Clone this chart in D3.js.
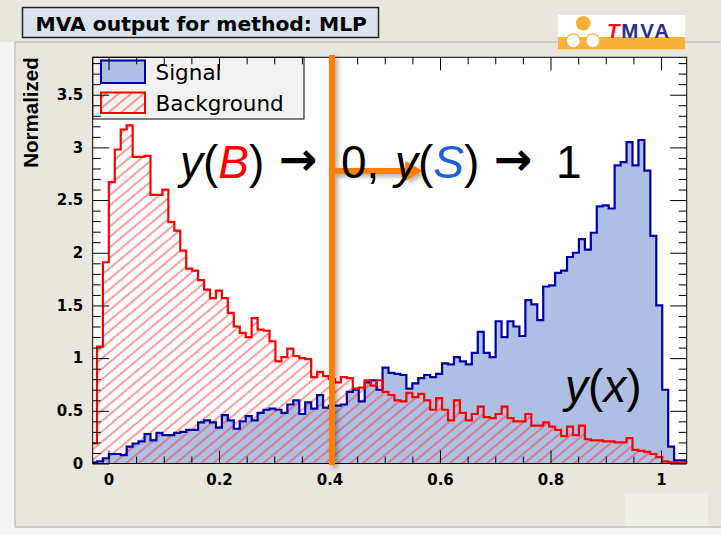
<!DOCTYPE html>
<html>
<head>
<meta charset="utf-8">
<script src="https://cdn.jsdelivr.net/npm/d3@7"></script>
<style>
  body { margin: 0; background: #f4f4f4; }
  svg { display: block; font-family: "Liberation Sans", Arial, Helvetica, sans-serif; }
</style>
</head>
<body>
<svg id="chart" width="721" height="535"></svg>
<script>
// ---- histogram data: MLP response, 100 bins, normalised to unit area ----
const binLow = -0.0317;
const binWidth = 0.01077;

const signal = [
  0.01, 0.02, 0.05, 0.09, 0.09, 0.08, 0.16, 0.19, 0.21, 0.28,
  0.22, 0.29, 0.27, 0.27, 0.29, 0.30, 0.32, 0.32, 0.39, 0.41,
  0.39, 0.34, 0.46, 0.41, 0.33, 0.40, 0.45, 0.41, 0.48, 0.51,
  0.52, 0.51, 0.48, 0.56, 0.60, 0.47, 0.58, 0.52, 0.65, 0.53,
  0.55, 0.55, 0.56, 0.68, 0.70, 0.59, 0.77, 0.79, 0.70, 0.91,
  0.86, 0.85, 0.84, 0.71, 0.76, 0.81, 0.84, 0.82, 0.85, 0.95,
  0.94, 1.01, 0.97, 0.94, 1.05, 1.25, 1.05, 1.01, 1.35, 1.20,
  1.35, 1.30, 1.21, 1.55, 1.51, 1.36, 1.68, 1.69, 1.81, 1.83,
  1.96, 2.00, 2.13, 2.03, 2.19, 2.44, 2.45, 2.42, 2.83, 2.86,
  3.05, 2.83, 3.07, 2.78, 2.16, 1.50, 0.70, 0.16, 0.03, 0.03
];

const background = [
  0.19, 1.11, 1.91, 2.67, 2.98, 3.17, 3.21, 2.91, 2.91, 2.92,
  2.55, 2.55, 2.60, 2.29, 2.21, 2.02, 1.85, 1.83, 1.74, 1.65,
  1.57, 1.64, 1.57, 1.43, 1.30, 1.24, 1.20, 1.38, 1.27, 1.26,
  1.16, 0.97, 1.01, 1.09, 1.02, 1.00, 0.99, 0.82, 0.87, 0.83,
  0.80, 0.77, 0.82, 0.81, 0.71, 0.72, 0.79, 0.74, 0.79, 0.68,
  0.65, 0.60, 0.59, 0.67, 0.63, 0.66, 0.60, 0.51, 0.62, 0.51,
  0.41, 0.60, 0.48, 0.41, 0.47, 0.54, 0.44, 0.43, 0.47, 0.54,
  0.43, 0.40, 0.40, 0.47, 0.36, 0.36, 0.39, 0.35, 0.32, 0.26,
  0.35, 0.27, 0.36, 0.23, 0.22, 0.22, 0.21, 0.21, 0.20, 0.20,
  0.24, 0.13, 0.12, 0.11, 0.09, 0.06, 0.02, 0.01, 0.01, 0.01
];

const xTickLabels = ["0", "0.2", "0.4", "0.6", "0.8", "1"];
const yTickLabels = ["0", "0.5", "1", "1.5", "2", "2.5", "3", "3.5"];
const legendLabels = ["Signal", "Background"];
const titleText = "MVA output for method: MLP";
const yAxisTitle = "Normalized";
const cutValue = 0.4045;

// ---- colours ----
const col = {
  canvas: "#e9e7dd",
  titleFill: "#dbe3ec",
  sigFill: "#adbfe3",
  sigLine: "#0000a8",
  bkgLine: "#ff0000",
  hatch: "#ff3a3a",
  orange: "#ff7f00",
  legendFill: "#f2f2f2"
};

const svg = d3.select("#chart");
const defs = svg.append("defs");

// ---- canvas / pad ----
svg.append("rect").attr("x", 0).attr("y", 0).attr("width", 721).attr("height", 535).attr("fill", "#f4f4f4");
svg.append("path")
  .attr("d", "M0,0H721V527H15V42H0Z")
  .attr("fill", col.canvas);
svg.append("path")
  .attr("d", "M15,527V42H721 M15,527H721")
  .attr("fill", "none").attr("stroke", "#c4c3bd").attr("stroke-width", 1.5);
svg.append("rect").attr("x", 625).attr("y", 493).attr("width", 83).attr("height", 33)
  .attr("fill", "#eeede8");

// ---- title box ----
svg.append("rect").attr("x", 22.5).attr("y", 7.5).attr("width", 356).attr("height", 30)
  .attr("fill", col.titleFill).attr("stroke", "#222").attr("stroke-width", 1.5);
svg.append("text").attr("x", 35.5).attr("y", 30.5)
  .attr("font-family", "DejaVu Sans").attr("font-weight", "bold").attr("font-size", 20.3)
  .attr("fill", "#000").text(titleText);

// ---- TMVA logo ----
const logo = svg.append("g");
logo.append("rect").attr("x", 558).attr("y", 15).attr("width", 127).attr("height", 35).attr("fill", "#fff");
logo.append("rect").attr("x", 558).attr("y", 37).attr("width", 127).attr("height", 12.5).attr("fill", "#fbb03b");
logo.append("circle").attr("cx", 583.3).attr("cy", 23.3).attr("r", 7.3).attr("fill", "#fbb03b");
[573.3, 592.8].forEach(cx => {
  logo.append("circle").attr("cx", cx).attr("cy", 40.8).attr("r", 7)
    .attr("fill", "#fff").attr("stroke", "#fbb03b").attr("stroke-width", 1.2);
});
const logoText = logo.append("text").attr("x", 607).attr("y", 37.5)
  .attr("font-weight", "bold").attr("font-size", 20.5).attr("letter-spacing", 1.8);
logoText.append("tspan").attr("fill", "#ff1010").attr("font-style", "italic").text("T");
logoText.append("tspan").attr("fill", "#2b2d8c").text("MVA");

// ---- frame & scales ----
const frame = { left: 92.7, right: 686.7, top: 57.3, bottom: 463.5 };
const x = d3.scaleLinear().domain([-0.0286, 1.0465]).range([frame.left, frame.right]);
const y = d3.scaleLinear().domain([0, 3.855]).range([frame.bottom, frame.top]);

svg.append("rect").attr("x", frame.left).attr("y", frame.top)
  .attr("width", frame.right - frame.left).attr("height", frame.bottom - frame.top)
  .attr("fill", "#fff");

defs.append("clipPath").attr("id", "frameClip")
  .append("rect").attr("x", frame.left).attr("y", frame.top)
  .attr("width", frame.right - frame.left).attr("height", frame.bottom - frame.top);

// hatch pattern for the background histogram
defs.append("pattern").attr("id", "hatch")
  .attr("patternUnits", "userSpaceOnUse").attr("width", 20).attr("height", 8)
  .attr("patternTransform", "rotate(-40)")
  .append("line").attr("x1", 0).attr("y1", 4).attr("x2", 20).attr("y2", 4)
  .attr("stroke", col.hatch).attr("stroke-width", 1);

// drop shadow for the orange annotation
const shadow = defs.append("filter").attr("id", "shadow")
  .attr("x", "-50%").attr("y", "-50%").attr("width", "200%").attr("height", "200%");
shadow.append("feDropShadow").attr("dx", 2.5).attr("dy", 2.5).attr("stdDeviation", 2.5)
  .attr("flood-color", "#000").attr("flood-opacity", 0.35);

function stepPoints(vals) {
  const pts = [[binLow, 0]];
  vals.forEach((v, i) => {
    const a = binLow + i * binWidth;
    pts.push([a, v], [a + binWidth, v]);
  });
  pts.push([binLow + vals.length * binWidth, 0]);
  return pts;
}
const stepLine = d3.line().x(d => x(d[0])).y(d => y(d[1]));

const plot = svg.append("g").attr("clip-path", "url(#frameClip)");
plot.append("path").attr("d", stepLine(stepPoints(signal)) + "Z").attr("fill", col.sigFill);
plot.append("path").attr("d", stepLine(stepPoints(background)) + "Z").attr("fill", "url(#hatch)");
plot.append("path").attr("d", stepLine(stepPoints(signal))).attr("fill", "none")
  .attr("stroke", col.sigLine).attr("stroke-width", 2.2);
plot.append("path").attr("d", stepLine(stepPoints(background))).attr("fill", "none")
  .attr("stroke", col.bkgLine).attr("stroke-width", 2.2);

// ---- legend ----
const leg = svg.append("g");
leg.append("rect").attr("x", frame.left).attr("y", frame.top).attr("width", 304 - frame.left)
  .attr("height", 119 - frame.top).attr("fill", col.legendFill).attr("stroke", "#000").attr("stroke-width", 1);
leg.append("rect").attr("x", 101).attr("y", 60.5).attr("width", 44).attr("height", 22.5)
  .attr("fill", col.sigFill).attr("stroke", col.sigLine).attr("stroke-width", 2);
leg.append("rect").attr("x", 101).attr("y", 92.5).attr("width", 44).attr("height", 20.5)
  .attr("fill", "url(#hatch)").attr("stroke", col.bkgLine).attr("stroke-width", 2);
legendLabels.forEach((t, i) => {
  leg.append("text").attr("x", 155.5).attr("y", i === 0 ? 80 : 111)
    .attr("font-family", "DejaVu Sans").attr("font-size", 21.5).attr("fill", "#000").text(t);
});

// ---- axes (ticks point inwards, on all four sides) ----
const xMajor = xTickLabels.map(Number);
const xMinor = d3.range(21).map(i => i * 0.05).filter(v => !xMajor.some(m => Math.abs(m - v) < 1e-9));
const yMajor = yTickLabels.map(Number);
const yMinor = d3.range(39).map(i => i * 0.1).filter(v => !yMajor.some(m => Math.abs(m - v) < 1e-9));

function styleAxis(g) {
  g.select(".domain").remove();
  g.selectAll("line").attr("stroke", "#000");
  g.selectAll("text").attr("font-family", "DejaVu Sans").attr("font-weight", "bold")
    .attr("font-size", 15).attr("fill", "#000");
}

svg.append("g").attr("transform", `translate(0,${frame.bottom})`)
  .call(d3.axisBottom(x).tickValues(xMajor).tickSize(-13).tickPadding(10.5)
    .tickFormat((d, i) => xTickLabels[i])).call(styleAxis);
svg.append("g").attr("transform", `translate(0,${frame.bottom})`)
  .call(d3.axisBottom(x).tickValues(xMinor).tickSize(-7).tickFormat("")).call(styleAxis);
svg.append("g").attr("transform", `translate(0,${frame.top})`)
  .call(d3.axisTop(x).tickValues(xMajor).tickSize(-13).tickFormat("")).call(styleAxis);
svg.append("g").attr("transform", `translate(0,${frame.top})`)
  .call(d3.axisTop(x).tickValues(xMinor).tickSize(-7).tickFormat("")).call(styleAxis);

svg.append("g").attr("transform", `translate(${frame.left},0)`)
  .call(d3.axisLeft(y).tickValues(yMajor).tickSize(-16.5).tickPadding(9.4)
    .tickFormat((d, i) => yTickLabels[i])).call(styleAxis);
svg.append("g").attr("transform", `translate(${frame.left},0)`)
  .call(d3.axisLeft(y).tickValues(yMinor).tickSize(-8).tickFormat("")).call(styleAxis);
svg.append("g").attr("transform", `translate(${frame.right},0)`)
  .call(d3.axisRight(y).tickValues(yMajor).tickSize(-16.5).tickFormat("")).call(styleAxis);
svg.append("g").attr("transform", `translate(${frame.right},0)`)
  .call(d3.axisRight(y).tickValues(yMinor).tickSize(-8).tickFormat("")).call(styleAxis);

svg.append("rect").attr("x", frame.left).attr("y", frame.top)
  .attr("width", frame.right - frame.left).attr("height", frame.bottom - frame.top)
  .attr("fill", "none").attr("stroke", "#000").attr("stroke-width", 1);

svg.append("text")
  .attr("transform", `translate(38,${frame.top}) rotate(-90)`)
  .attr("text-anchor", "end").attr("font-weight", "bold").attr("font-size", 20.5)
  .attr("fill", "#000").text(yAxisTitle);

// ---- cut annotation: y = 0.4 line with arrow towards signal ----
const ann = svg.append("g").attr("filter", "url(#shadow)");
const cx0 = x(cutValue);
const arrowY = y(2.775);
const arrowTip = x(0.569);
const arrowBase = x(0.537);
ann.append("rect").attr("x", cx0 - 3).attr("y", 55).attr("width", 6).attr("height", 410)
  .attr("fill", col.orange);
ann.append("path")
  .attr("d", `M${cx0},${arrowY - 3}H${arrowBase}V${arrowY - 10}L${arrowTip},${arrowY}L${arrowBase},${arrowY + 10}V${arrowY + 3}H${cx0}Z`)
  .attr("fill", col.orange);

// ---- large annotation text ----
const big = 46;
function bigText(xp, yp, parts, opts = {}) {
  const t = svg.append("text").attr("x", xp).attr("y", yp)
    .attr("font-size", opts.size || big).attr("fill", "#000")
    .attr("font-family", opts.family || "Liberation Sans, Arial, sans-serif")
    .attr("font-weight", opts.weight || "normal");
  parts.forEach(p => {
    t.append("tspan").attr("font-style", p.i ? "italic" : "normal")
      .attr("fill", p.c || "#000").text(p.t);
  });
  return t;
}
bigText(180, 178, [{ t: "y", i: 1 }, { t: "(" }, { t: "B", i: 1, c: "#ff0000" }, { t: ")" }]);
bigText(279, 175, [{ t: "\u2192" }], { family: "DejaVu Sans", weight: "bold", size: 46 });
bigText(341, 178, [{ t: "0," }]);
bigText(395, 178, [{ t: "y", i: 1 }, { t: "(" }, { t: "S", i: 1, c: "#1a62d6" }, { t: ")" }]);
bigText(494, 175, [{ t: "\u2192" }], { family: "DejaVu Sans", weight: "bold", size: 46 });
bigText(556, 178, [{ t: "1" }]);
bigText(565, 402, [{ t: "y", i: 1 }, { t: "(" }, { t: "x", i: 1 }, { t: ")" }]);
</script>
</body>
</html>
